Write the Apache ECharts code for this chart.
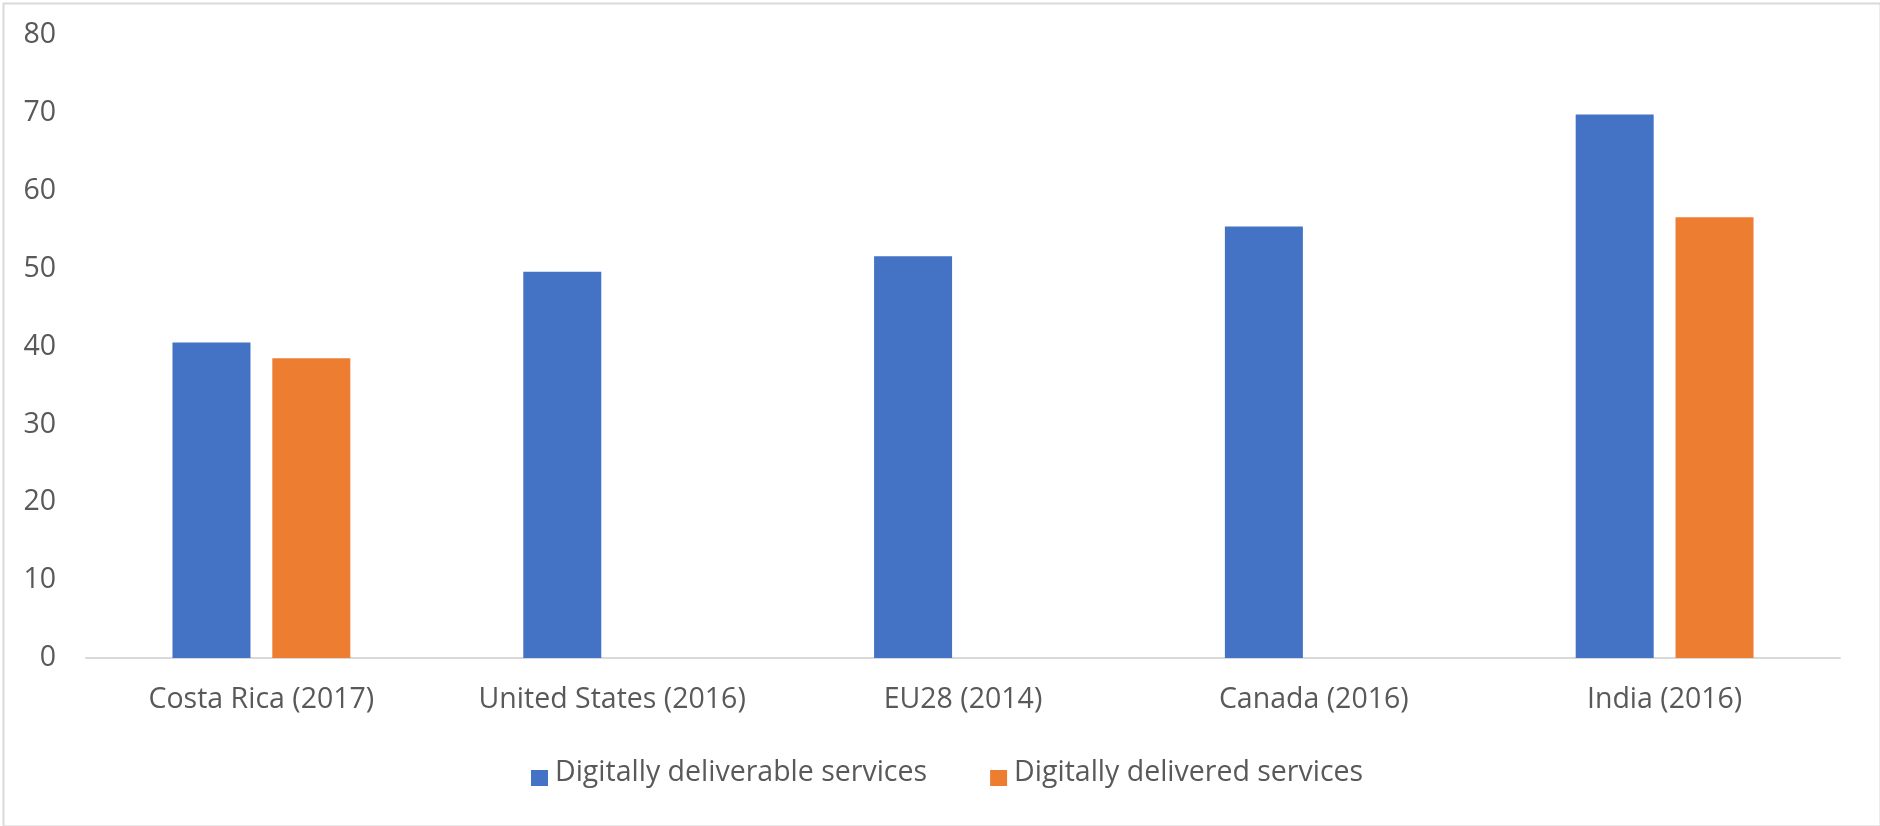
<!DOCTYPE html>
<html>
<head>
<meta charset="utf-8">
<script src="https://cdn.jsdelivr.net/npm/echarts@6/dist/echarts.min.js"></script>
<style>
  html, body { margin: 0; padding: 0; background: #ffffff; }
  #chart { width: 1880px; height: 826px; }
</style>
</head>
<body>
<div id="chart"></div>
<script>
// Categories (economy and reference year)
const categories = ['Costa Rica (2017)', 'United States (2016)', 'EU28 (2014)', 'Canada (2016)', 'India (2016)'];
// Share of services trade, per cent
const deliverable = [40.5, 49.6, 51.6, 55.4, 69.8];
const delivered = [38.5, null, null, null, 56.6];
const seriesNames = ['Digitally deliverable services', 'Digitally delivered services'];
const yTicks = [0, 10, 20, 30, 40, 50, 60, 70, 80];

const FONT = 'Open Sans';
const FONT_SIZE = 28.5;
const TEXT_COLOR = '#595959';

// Square legend key that sits slightly below the text centre line
const LEGEND_ICON = 'path://M0,0M0,11L17,11L17,27L0,27Z';

const chart = echarts.init(document.getElementById('chart'), null, { renderer: 'canvas' });

chart.setOption({
  animation: false,
  backgroundColor: '#ffffff',
  textStyle: { fontFamily: FONT },
  graphic: [{
    type: 'rect',
    left: 1, top: 1,
    shape: { width: 1877, height: 823 },
    style: { fill: 'none', stroke: '#d9d9d9', lineWidth: 2 },
    silent: true
  }],
  legend: {
    data: seriesNames,
    left: 526,
    top: 753,
    padding: 5,
    itemWidth: 17,
    itemHeight: 27,
    itemGap: 63,
    icon: LEGEND_ICON,
    textStyle: { fontFamily: FONT, fontSize: FONT_SIZE, color: TEXT_COLOR, padding: [0, 0, 0, 2] }
  },
  grid: { left: 86, right: 40, top: 35, bottom: 168, containLabel: false },
  xAxis: {
    type: 'category',
    data: categories,
    axisLine: { show: true, lineStyle: { color: '#d9d9d9', width: 2 } },
    axisTick: { show: false },
    axisLabel: { fontFamily: FONT, fontSize: FONT_SIZE, color: TEXT_COLOR, margin: 27 }
  },
  yAxis: {
    type: 'value',
    min: yTicks[0],
    max: yTicks[yTicks.length - 1],
    interval: 10,
    axisLine: { show: false },
    axisTick: { show: false },
    splitLine: { show: false },
    axisLabel: { fontFamily: FONT, fontSize: FONT_SIZE, color: TEXT_COLOR, margin: 30 }
  },
  series: [
    {
      name: seriesNames[0],
      type: 'bar',
      data: deliverable,
      barWidth: 78,
      barGap: '28%',
      itemStyle: { color: '#4472c4' }
    },
    {
      name: seriesNames[1],
      type: 'bar',
      data: delivered,
      barWidth: 78,
      barGap: '28%',
      itemStyle: { color: '#ed7d31' }
    }
  ]
});
</script>
</body>
</html>
